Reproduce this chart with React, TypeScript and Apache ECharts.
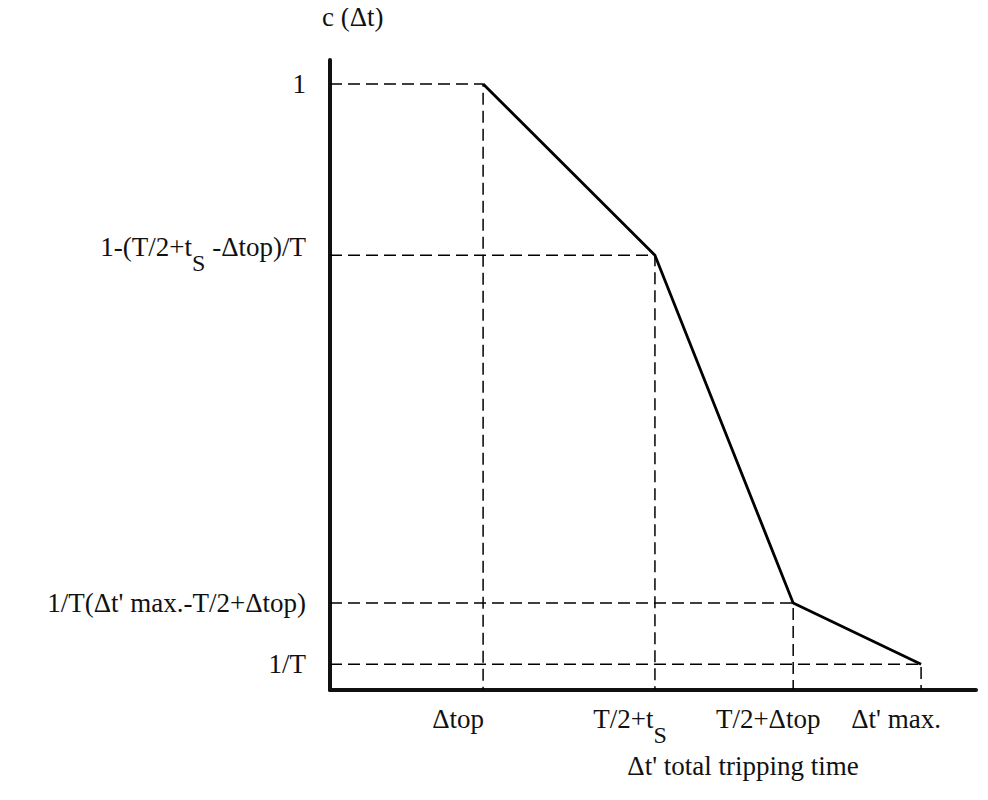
import React, { useEffect, useRef } from "react";
import * as echarts from "echarts";

// Breakpoints of c(Δt) (abstract axis units)
const xValues = [23.7, 50.3, 71.7, 91.5];
const yValues = [96.2, 69.0, 13.8, 4.1];
const xLabels = ["Δtop", "T/2+t_S", "T/2+Δtop", "Δt' max."];
const yLabels = ["1", "1-(T/2+t_S -Δtop)/T", "1/T(Δt' max.-T/2+Δtop)", "1/T"];
const xName = "Δt' total tripping time";
const yName = "c (Δt)";

const FONT = "'Liberation Serif', 'Times New Roman', serif";
const FS = 27;
const SUB = 16;

function toRich(label: string): string {
  if (label.indexOf("_S") < 0) return label;
  const parts = label.split("_S");
  let out = "{m|" + parts[0] + "}{s|S}";
  if (parts[1]) out += "{m|" + parts[1] + "}";
  return out;
}

const rich = {
  m: { fontFamily: FONT, fontSize: FS, color: "#111", padding: [0, 0, SUB, 0] },
  s: { fontFamily: FONT, fontSize: FS - 3, color: "#111", padding: [SUB, 0, 0, 0] },
};

export default function App() {
  const ref = useRef<HTMLDivElement>(null);
  useEffect(() => {
    if (!ref.current) return;
    const chart = echarts.init(ref.current, null, { renderer: "svg" });
    const guides = xValues.map((x, i) => ({
      type: "line",
      data: [
        [0, yValues[i]],
        [x, yValues[i]],
        [x, 0],
      ],
      symbol: "none",
      silent: true,
      lineStyle: { color: "#000", width: 1.5, type: [12, 6] },
      z: 1,
    }));
    chart.setOption({
      animation: false,
      backgroundColor: "#fff",
      grid: { left: 330, right: 12, top: 60, bottom: 110 },
      xAxis: {
        type: "value",
        min: 0,
        max: 100,
        name: xName,
        nameLocation: "middle",
        nameGap: 62,
        nameTextStyle: {
          fontFamily: FONT,
          fontSize: FS,
          color: "#111",
          padding: [0, 0, 0, 180],
        },
        axisLine: { show: true, lineStyle: { color: "#111", width: 4 } },
        axisTick: { show: false },
        splitLine: { show: false },
        axisLabel: {
          customValues: xValues,
          margin: 15,
          fontFamily: FONT,
          fontSize: FS,
          color: "#111",
          padding: [0, 50, 0, 0],
          formatter: (v: number) => {
            const i = xValues.indexOf(v);
            return i >= 0 ? toRich(xLabels[i]) : "";
          },
          rich,
        },
      },
      yAxis: {
        type: "value",
        min: 0,
        max: 100,
        name: yName,
        nameLocation: "end",
        nameGap: 30,
        nameTextStyle: {
          fontFamily: FONT,
          fontSize: FS,
          color: "#111",
          align: "left",
          padding: [0, 0, 0, -8],
        },
        axisLine: { show: true, onZero: false, lineStyle: { color: "#111", width: 4 } },
        axisTick: { show: false },
        splitLine: { show: false },
        axisLabel: {
          customValues: yValues,
          margin: 24,
          fontFamily: FONT,
          fontSize: FS,
          color: "#111",
          formatter: (v: number) => {
            const i = yValues.indexOf(v);
            return i >= 0 ? toRich(yLabels[i]) : "";
          },
          rich,
        },
      },
      series: [
        ...guides,
        {
          type: "line",
          data: xValues.map((x, i) => [x, yValues[i]]),
          symbol: "none",
          silent: true,
          lineStyle: { color: "#000", width: 2.8 },
          z: 3,
        },
      ],
    });
    return () => chart.dispose();
  }, []);
  return <div ref={ref} style={{ width: 988, height: 800, margin: -8 }} />;
}
